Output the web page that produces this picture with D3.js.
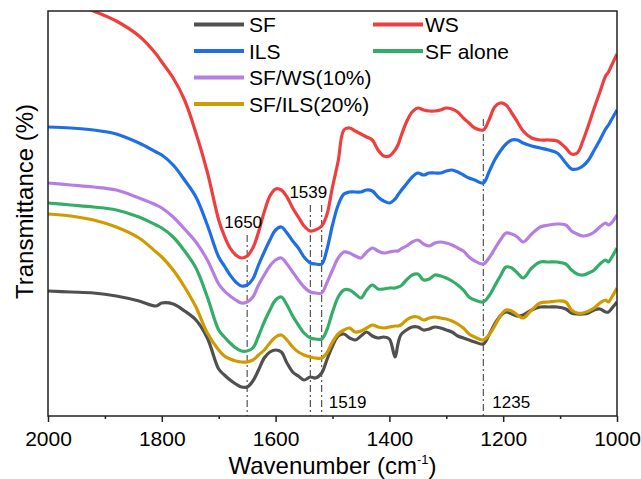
<!DOCTYPE html>
<html><head><meta charset="utf-8">
<script src="https://cdn.jsdelivr.net/npm/d3@7"></script>
<style>body{margin:0;background:#fff} text{font-family:Arial,"Liberation Sans",sans-serif;fill:#000}</style>
</head><body><svg id="c" width="641" height="479"></svg>
<script>
// ---- data (transmittance in arbitrary units, spectra offset as in the figure) ----
const wavenumbers = [2000,1960,1920,1880,1840,1810,1800,1780,1760,1740,1720,1700,1690,1680,1670,1660,1650,1640,1630,1620,1610,1600,1590,1580,1570,1560,1550,1539,1530,1519,1510,1500,1490,1480,1470,1460,1450,1440,1430,1420,1410,1400,1390,1385,1380,1370,1360,1350,1340,1330,1320,1310,1300,1290,1280,1270,1260,1250,1235,1225,1215,1205,1195,1185,1175,1165,1150,1135,1120,1105,1090,1080,1070,1060,1050,1040,1030,1020,1015,1010,1000];
const SF = [125,124,123,120,115,110,113,112,105,96,78,47,41,36,32,29,29,35,46,58,64,66,64,53,44,40,36,39,38,43,56,70,80,82,78,76,80,84,80,78,79,77,59,72,81,86,89,89,86,87,89,88,86,84,80,78,76,74,72,81,92,100,104,102,100,101,106,109,109,109,107,103,102,102,103,106,107,104,104,107,114];
const WS = [424,414,405,395,380,362,354,338,316,283,244,196,180,168,161,158,160,168,184,204,220,227,226,219,208,199,190,185,186,190,201,229,255,286,288,285,282,279,276,266,260,260,266,271,279,294,304,308,306,305,305,306,308,307,304,298,293,288,286,296,309,313,311,303,294,285,278,276,276,275,268,262,263,275,291,308,324,340,344,350,362];
const ILS = [289,288,286,282,273,264,261,251,236,219,191,159,150,141,134,130,131,137,151,164,176,186,189,183,175,168,159,153,152,152,166,191,211,222,224,224,224,226,225,219,215,213,217,221,225,232,239,243,241,243,243,243,245,246,244,241,238,236,233,244,256,265,272,276,276,273,270,268,266,263,253,247,247,250,256,266,276,287,291,296,306];
const SF_alone = [213,211,209,206,199,191,188,179,165,148,119,86,79,73,68,65,65,68,80,94,106,116,119,111,100,91,83,78,77,77,86,104,119,126,126,122,118,126,131,127,127,128,128,129,130,136,141,142,136,137,141,140,138,135,131,126,119,116,114,120,130,140,149,148,143,138,148,154,154,154,152,146,142,141,143,146,152,156,154,158,168];
const SF_WS10 = [233,231,229,226,218,211,208,199,187,174,156,132,125,120,116,113,114,119,131,141,150,156,158,152,144,136,129,124,123,123,133,146,158,164,163,160,158,164,168,165,163,164,165,165,167,170,174,176,172,170,173,174,173,171,168,165,159,155,152,158,167,176,183,182,179,174,182,189,191,192,191,185,182,180,181,184,189,193,191,193,201];
const SF_ILS20 = [202,200,196,189,178,164,159,146,129,109,83,66,60,57,55,54,54,56,61,66,73,79,81,76,69,64,61,59,58,58,63,74,82,86,88,84,85,88,91,89,88,89,90,90,91,96,99,99,96,98,99,98,97,95,92,88,82,79,76,81,90,100,106,105,101,98,106,113,114,115,114,106,103,103,105,108,113,116,114,118,128];

const seriesNames  = ["SF","WS","ILS","SF alone","SF/WS(10%)","SF/ILS(20%)"];
const seriesValues = [SF, WS, ILS, SF_alone, SF_WS10, SF_ILS20];
const seriesColors = ["#505050","#ef3e3e","#1e6fe6","#33ad68","#b47ee2","#cf9b00"];

const xTicks = [2000,1800,1600,1400,1200,1000];
const xMinorTicks = [1900,1700,1500,1300,1100];
const peaks = [1650,1539,1519,1235];
const peakLineTops = [181,211,211,297];
const peakLabels = ["1650","1539","1519","1235"];

// ---- layout ----
const svg = d3.select("#c");
const L = 48, R = 617, T = 11, B = 416;
const x = d3.scaleLinear().domain([2000,1000]).range([L,R]);
const y = d3.scaleLinear().domain([0,405]).range([B,T]);

svg.append("clipPath").attr("id","clip").append("rect")
  .attr("x",L).attr("y",T).attr("width",R-L).attr("height",B-T);

const line = d3.line().x((d,i)=>x(wavenumbers[i])).y(d=>y(d)).curve(d3.curveCatmullRom.alpha(0.5));

// peak reference lines
const pk = svg.append("g");
peaks.forEach((p,i)=>{
  pk.append("line").attr("x1",x(p)).attr("x2",x(p)).attr("y1",y(peakLineTops[i])).attr("y2",B)
    .attr("stroke","#333").attr("stroke-width",1).attr("stroke-dasharray","7,3,2,3");
});

const g = svg.append("g").attr("clip-path","url(#clip)");
seriesValues.forEach((vals,i)=>{
  g.append("path").datum(vals).attr("d",line).attr("fill","none")
    .attr("stroke",seriesColors[i]).attr("stroke-width",3.2).attr("stroke-linejoin","round");
});

// peak labels
const lab = svg.append("g").attr("font-size",17);
lab.append("text").attr("x",x(1650)-4).attr("y",228).attr("text-anchor","middle").text(peakLabels[0]);
lab.append("text").attr("x",x(1539)-2).attr("y",198).attr("text-anchor","middle").text(peakLabels[1]);
lab.append("text").attr("x",x(1519)+7).attr("y",408).text(peakLabels[2]);
lab.append("text").attr("x",x(1235)+9).attr("y",408).text(peakLabels[3]);

// frame
svg.append("rect").attr("x",L).attr("y",T).attr("width",R-L).attr("height",B-T)
  .attr("fill","none").attr("stroke","#222").attr("stroke-width",1.5);

// x axis
const xa = svg.append("g").attr("transform",`translate(0,${B})`)
  .call(d3.axisBottom(x).tickValues(xTicks).tickSize(6).tickSizeOuter(0).tickPadding(9).tickFormat(d3.format("d")));
xa.select(".domain").remove();
xa.selectAll(".tick line").attr("stroke","#222").attr("stroke-width",1.5);
xa.selectAll(".tick text").attr("font-size",21).attr("font-family","Arial, 'Liberation Sans', sans-serif").attr("fill","#000");
svg.append("g").attr("transform",`translate(0,${B})`)
  .call(d3.axisBottom(x).tickValues(xMinorTicks).tickSize(3).tickFormat(""))
  .call(s=>{s.select(".domain").remove(); s.selectAll(".tick line").attr("stroke","#222").attr("stroke-width",1.5);});

// axis titles
const xt = svg.append("text").attr("x",(L+R)/2).attr("y",474).attr("text-anchor","middle").attr("font-size",24);
xt.append("tspan").text("Wavenumber (cm");
xt.append("tspan").attr("font-size",13).attr("dy",-10).text("-1");
xt.append("tspan").attr("dy",10).text(")");

svg.append("text").attr("transform",`translate(33,${(T+B)/2-12}) rotate(-90)`)
  .attr("text-anchor","middle").attr("font-size",24).text("Transmittance (%)");

// legend
const legPos = [[194,24.5],[373,24.5],[194,51],[373,51],[194,77.5],[194,104]];
const leg = svg.append("g");
seriesNames.forEach((n,i)=>{
  const [lx,ly] = legPos[i];
  leg.append("line").attr("x1",lx).attr("x2",lx+50).attr("y1",ly).attr("y2",ly)
    .attr("stroke",seriesColors[i]).attr("stroke-width",4);
  leg.append("text").attr("x",lx+(lx>300?52:55)).attr("y",ly+7.5).attr("font-size",21).text(n);
});
</script></body></html>
